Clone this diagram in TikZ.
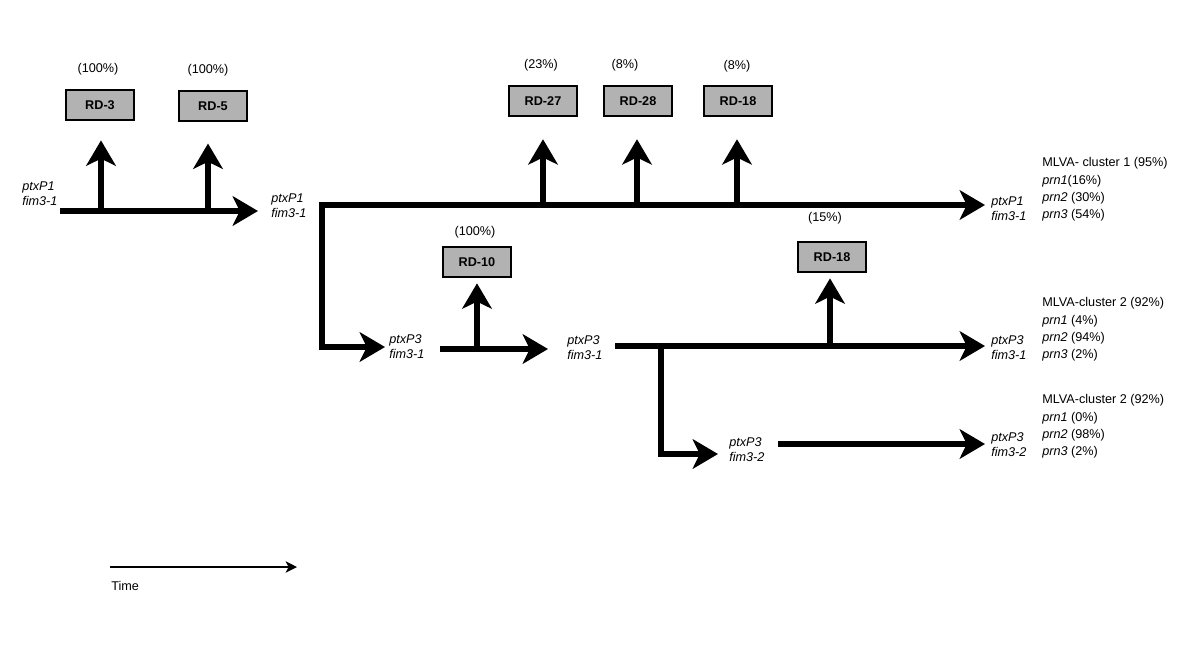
\documentclass[tikz,border=0pt]{standalone}
\usepackage{fontspec}
\setmainfont{Liberation Sans}
\usetikzlibrary{arrows.meta}

\tikzset{
  thick arrow/.style={line width=4pt, -{Stealth[length=18pt,width=21pt,inset=5pt]}},
  both tips/.style={line width=4pt, {Stealth[length=18pt,width=21pt,inset=5pt]}-{Stealth[length=18pt,width=21pt,inset=5pt]}},
  rdbox/.style={draw, line width=2pt, fill=black!30, minimum width=1.7cm, minimum height=0.75cm,
    font=\fontsize{9}{11}\selectfont\bfseries},
  pct/.style={font=\fontsize{9}{11}\selectfont, inner sep=0pt},
  geno/.style={anchor=west, align=left, inner sep=0pt, font=\fontsize{9}{10.7}\selectfont\itshape},
  info/.style={anchor=west, align=left, inner sep=0pt, font=\fontsize{9}{12.4}\selectfont}
}

\begin{document}
\begin{tikzpicture}[x=0.025cm, y=-0.025cm]
    \useasboundingbox (0,0) rectangle (1200,646);
    % deletion regions
    \node[rdbox] (rd3) at (100,105) {RD-3};
    \node[rdbox] (rd5) at (213,106) {RD-5};
    \node[rdbox] (rd27) at (543,101) {RD-27};
    \node[rdbox] (rd28) at (638,101) {RD-28};
    \node[rdbox] (rd18a) at (738,101) {RD-18};
    \node[rdbox] (rd10) at (477,262) {RD-10};
    \node[rdbox] (rd18b) at (832,257) {RD-18};
    \node[pct] (p3) at (98,69) {(100\%)};
    \node[pct] (p5) at (208,70) {(100\%)};
    \node[pct] (p27) at (541,65) {(23\%)};
    \node[pct] (p28) at (625,65) {(8\%)};
    \node[pct] (p18a) at (737,66) {(8\%)};
    \node[pct] (p10) at (475,232) {(100\%)};
    \node[pct] (p18b) at (825,218) {(15\%)};
    % genotypes
    \node[geno] (g0) at (22,193.5) {ptxP1\\fim3-1};
    \node[geno] (g1) at (271,205.5) {ptxP1\\fim3-1};
    \node[geno] (g2) at (389,346.5) {ptxP3\\fim3-1};
    \node[geno] (g3) at (567,347.5) {ptxP3\\fim3-1};
    \node[geno] (g4) at (729,450) {ptxP3\\fim3-2};
    \node[geno] (r1) at (991,209) {ptxP1\\fim3-1};
    \node[geno] (r2) at (991,347.5) {ptxP3\\fim3-1};
    \node[geno] (r3) at (991,444.5) {ptxP3\\fim3-2};
    \node[info] (i1) at (1042,189.5) {MLVA- cluster 1 (95\%)\\\textit{prn1}(16\%)\\\textit{prn2} (30\%)\\\textit{prn3} (54\%)};
    \node[info] (i2) at (1042,329.5) {MLVA-cluster 2 (92\%)\\\textit{prn1} (4\%)\\\textit{prn2} (94\%)\\\textit{prn3} (2\%)};
    \node[info] (i3) at (1042,426.5) {MLVA-cluster 2 (92\%)\\\textit{prn1} (0\%)\\\textit{prn2} (98\%)\\\textit{prn3} (2\%)};
    % lineages
    \coordinate (s1) at (60,211);
    \coordinate (e1) at (258,211);
    \coordinate (b3) at (101,211);
    \coordinate (b5) at (208,211);
    \coordinate (j1) at (322,205);
    \coordinate (e2) at (985,205);
    \coordinate (b27) at (543,205);
    \coordinate (b28) at (637,205);
    \coordinate (b18a) at (737,205);
    \coordinate (c1) at (322,347);
    \coordinate (e3) at (385,347);
    \coordinate (s4) at (440,349);
    \coordinate (e4) at (548,349);
    \coordinate (b10) at (477,349);
    \coordinate (s5) at (615,346);
    \coordinate (e5) at (985,346);
    \coordinate (b18b) at (830,346);
    \coordinate (j2) at (661,346);
    \coordinate (c2) at (661,454);
    \coordinate (e6) at (718,454);
    \coordinate (s7) at (778,444);
    \coordinate (e7) at (985,444);
    \draw[thick arrow] (s1) -- (e1);
    \draw[thick arrow, shorten >=13.5pt] (b3) -- (b3 |- rd3.south);
    \draw[thick arrow, shorten >=15pt] (b5) -- (b5 |- rd5.south);
    \draw[both tips] (e3) -- (c1) -- (j1) -- (e2);
    \draw[thick arrow, shorten >=15.5pt] (b27) -- (b27 |- rd27.south);
    \draw[thick arrow, shorten >=15.5pt] (b28) -- (b28 |- rd28.south);
    \draw[thick arrow, shorten >=15.5pt] (b18a) -- (b18a |- rd18a.south);
    \draw[thick arrow] (s4) -- (e4);
    \draw[thick arrow, shorten >=3.5pt] (b10) -- (b10 |- rd10.south);
    \draw[thick arrow] (s5) -- (e5);
    \draw[thick arrow, shorten >=3.5pt] (b18b) -- (b18b |- rd18b.south);
    \draw[thick arrow] (j2) -- (c2) -- (e6);
    \draw[thick arrow] (s7) -- (e7);
    % time axis
    \coordinate (t0) at (110,567);
    \coordinate (t1) at (297,567);
    \draw[line width=2pt, -{Stealth[length=8pt,width=8pt,inset=2pt]}] (t0) -- (t1);
    \node[pct, anchor=west] (time) at (111,586) {Time};
\end{tikzpicture}
\end{document}
